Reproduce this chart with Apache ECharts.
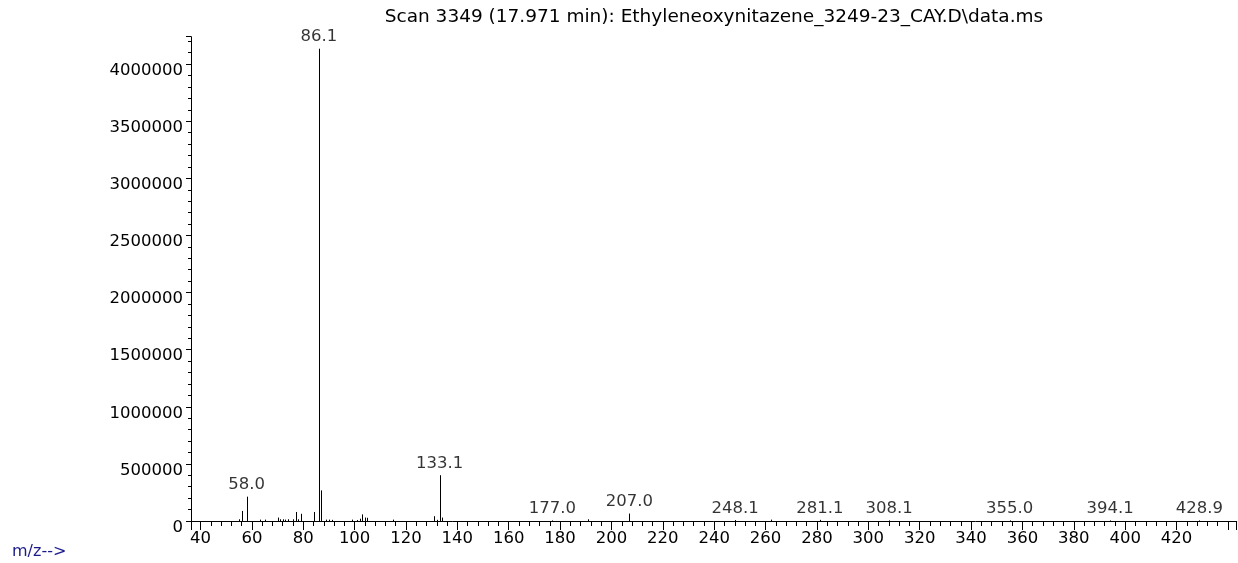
<!DOCTYPE html>
<html><head><meta charset="utf-8">
<script src="https://cdn.jsdelivr.net/npm/echarts@6/dist/echarts.min.js"></script>
<style>html,body{margin:0;padding:0;background:#fff}#c{width:1238px;height:563px}</style>
</head><body><div id="c"></div>
<script>
const chartTitle = 'Scan 3349 (17.971 min): Ethyleneoxynitazene_3249-23_CAY.D\\data.ms';
const yAxisTitle = 'Abundance';
const xAxisTitle = 'm/z-->';
// all peaks (m/z, abundance)
const peakMz = [55, 56, 58.0, 63, 65, 70, 71, 72, 73, 74, 76, 77, 78, 79, 84, 86.1, 87, 89, 90, 91,
  99, 101, 102, 103, 104, 105, 115, 131, 132, 133.1, 134, 177.0, 191, 207.0, 248.1, 262, 281.1, 308.1, 355.0, 394.1, 428.9];
const peakAbundance = [15000, 88000, 213000, 12000, 12000, 30000, 15000, 15000, 12000, 15000, 15000, 79000, 15000, 63000, 79000, 4135000, 268000, 12000, 12000, 10000,
  12000, 8000, 20000, 58000, 30000, 28000, 12000, 42000, 10000, 401000, 30000, 5000, 15000, 65000, 8000, 12000, 10000, 5000, 5000, 5000, 5000];
// labelled peaks
const labelMz = [58.0, 86.1, 133.1, 177.0, 207.0, 248.1, 281.1, 308.1, 355.0, 394.1, 428.9];
const labelAbundance = [213000, 4135000, 401000, 5000, 65000, 8000, 10000, 5000, 5000, 5000, 5000];
const xMin = 36.3, xMax = 443.4, xStep = 20, xLastLabel = 420;
const yMin = 0, yMax = 4240000, yStep = 500000;

const FONT = 'DejaVu Sans';
const chart = echarts.init(document.getElementById('c'), null, {renderer: 'canvas'});
chart.setOption({
  backgroundColor: '#fff',
  animation: false,
  title: {
    text: chartTitle, left: 709, top: 3, textAlign: 'center',
    textStyle: {fontFamily: FONT, fontSize: 18.5, fontWeight: 'normal', color: '#000'}
  },
  graphic: [
    {type: 'text', left: 10, top: -15, style: {text: yAxisTitle, fontFamily: FONT, fontSize: 16, fill: '#aaa'}},
    {type: 'text', left: 12, top: 544, style: {text: xAxisTitle, fontFamily: FONT, fontSize: 16, fill: '#1a1a8c'}}
  ],
  grid: {left: 191, top: 36.7, right: 1.3, bottom: 42, containLabel: false, outerBoundsMode: 'none'},
  xAxis: {
    type: 'value', min: xMin, max: xMax, splitNumber: 20, minInterval: xStep, maxInterval: xStep,
    axisLine: {show: true, lineStyle: {color: '#000', width: 1}},
    axisTick: {show: true, length: 9, lineStyle: {color: '#000'}},
    minorTick: {show: true, splitNumber: 5, length: 5, lineStyle: {color: '#000'}},
    splitLine: {show: false},
    axisLabel: {
      showMinLabel: false, showMaxLabel: false, margin: 9,
      fontFamily: FONT, fontSize: 16.5, color: '#000',
      formatter: v => (v > xLastLabel ? '' : String(v))
    }
  },
  yAxis: {
    type: 'value', min: yMin, max: yMax, splitNumber: 9, minInterval: yStep, maxInterval: yStep,
    axisLine: {show: true, lineStyle: {color: '#000', width: 1}},
    axisTick: {show: true, length: 5, lineStyle: {color: '#000'}},
    minorTick: {show: true, splitNumber: 5, length: 3, lineStyle: {color: '#000'}},
    splitLine: {show: false},
    axisLabel: {
      showMaxLabel: false, margin: 8, verticalAlign: 'top', lineHeight: 13,
      fontFamily: FONT, fontSize: 16.5, color: '#000',
      formatter: v => String(v)
    }
  },
  series: [
    {
      type: 'custom',
      data: peakMz.map((m, i) => [m, peakAbundance[i]]),
      renderItem: (params, api) => {
        const p0 = api.coord([api.value(0), 0]);
        const p1 = api.coord([api.value(0), api.value(1)]);
        const x = Math.round(p0[0]) + 0.5;
        return {type: 'line', shape: {x1: x, y1: p0[1], x2: x, y2: p1[1]},
          style: {stroke: '#000', lineWidth: 1}};
      },
      silent: true
    },
    {
      type: 'scatter',
      symbolSize: 0,
      data: labelMz.map((m, i) => [m, labelAbundance[i]]),
      label: {
        show: true, position: 'top', distance: 3,
        fontFamily: FONT, fontSize: 16.5, color: '#000',
        formatter: p => p.value[0].toFixed(1)
      },
      silent: true
    }
  ]
});
</script></body></html>
